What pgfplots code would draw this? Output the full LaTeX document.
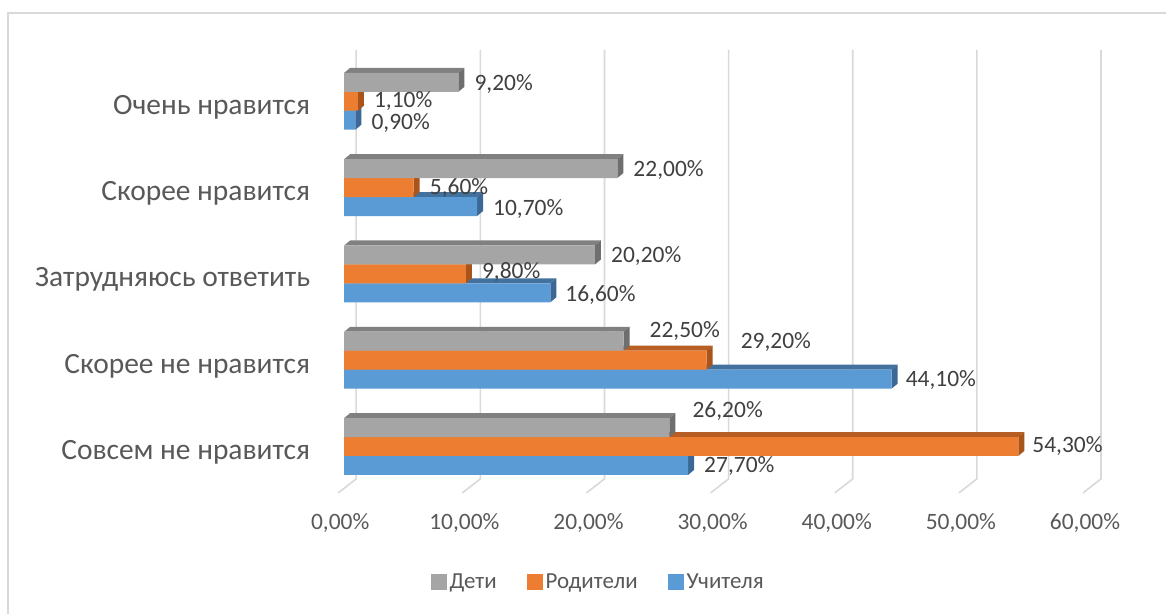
\documentclass[border=0pt]{standalone}
\usepackage{pgfplots}
\pgfplotsset{compat=1.18}
\usepackage{fontspec}
\setmainfont{Carlito}
\definecolor{cgray}{HTML}{A5A5A5}
\definecolor{cgrayt}{HTML}{808080}
\definecolor{cgrays}{HTML}{6E6E6E}
\definecolor{corange}{HTML}{ED7D31}
\definecolor{corainget}{HTML}{B65E23}
\definecolor{coranges}{HTML}{A9541B}
\definecolor{cblue}{HTML}{5B9BD5}
\definecolor{cbluet}{HTML}{41719C}
\definecolor{cblues}{HTML}{3B6894}
\definecolor{gridc}{HTML}{D9D9D9}
\definecolor{framec}{HTML}{D9D9D9}
\definecolor{ctext}{HTML}{595959}
\definecolor{clabel}{HTML}{404040}
% 3D faces: value, category, bar shift, top colour, side colour
\newcommand\bthreed[5]{%
  \fill[#4] ([yshift=#3+9.5pt]axis cs:0,#2) -- ([yshift=#3+9.5pt]axis cs:#1,#2)
    -- ([xshift=6pt,yshift=#3+14.5pt]axis cs:#1,#2) -- ([xshift=6pt,yshift=#3+14.5pt]axis cs:0,#2) -- cycle;
  \fill[#5] ([yshift=#3-9.5pt]axis cs:#1,#2) -- ([yshift=#3+9.5pt]axis cs:#1,#2)
    -- ([xshift=6pt,yshift=#3+14.5pt]axis cs:#1,#2) -- ([xshift=6pt,yshift=#3-4.5pt]axis cs:#1,#2) -- cycle;
}
% label: value, category, yshift, xshift, text
\newcommand\lbl[5]{%
  \node[anchor=west, inner sep=0pt, font=\fontsize{23.5}{27}\selectfont, text=clabel]
    at ([xshift=#4pt,yshift=#3pt]axis cs:#1,#2) {#5};
}
\begin{document}
\begin{tikzpicture}[x=1pt,y=1pt]
\fill[white] (0,0) rectangle (1167,613);
\draw[framec, line width=1.3pt] (8,-2) -- (8,600) -- (1169,600);
\begin{axis}[
  at={(345pt,122.25pt)}, anchor=south west,
  width=746.5pt, height=432.5pt, scale only axis,
  xmin=0, xmax=60, ymin=-0.5, ymax=4.5, clip=false,
  axis line style={draw=none}, major tick length=0pt,
  xtick={0,10,20,30,40,50,60},
  xticklabels={{0,00\%},{10,00\%},{20,00\%},{30,00\%},{40,00\%},{50,00\%},{60,00\%}},
  xticklabel style={anchor=center, inner sep=0pt, xshift=-4pt, yshift=-33pt,
    font=\fontsize{23.5}{27}\selectfont, text=ctext},
  ytick={0,1,2,3,4},
  yticklabels={Совсем не нравится, Скорее не нравится, Затрудняюсь ответить, Скорее нравится, Очень нравится},
  yticklabel style={anchor=east, inner sep=0pt, xshift=-34pt, yshift=-6pt,
    font=\fontsize{29.5}{34}\selectfont, text=ctext},
  legend image code/.code={\fill[#1] (0pt,-8pt) rectangle (16pt,8pt);},
  legend style={at={(0.3416,-0.2133)}, anchor=center, draw=none, fill=none,
    font=\fontsize{23}{27}\selectfont, text=ctext, inner sep=0pt,
    nodes={inner sep=3pt},
    /tikz/every odd column/.append style={column sep=0pt},
    /tikz/every even column/.append style={column sep=27pt}},
  legend columns=3, legend cell align=left,
]
\addlegendimage{fill=cgray, draw=none}\addlegendentry{Дети}
\addlegendimage{fill=corange, draw=none}\addlegendentry{Родители}
\addlegendimage{fill=cblue, draw=none}\addlegendentry{Учителя}
% gridlines (back wall + floor)
\pgfplotsinvokeforeach{0,10,20,30,40,50,60}{
  \draw[gridc, line width=1.6pt] ([xshift=12pt,yshift=8.25pt]axis cs:#1,4.5)
    -- ([xshift=12pt,yshift=10.75pt]axis cs:#1,-0.5)
    -- ([xshift=-6pt,yshift=-3.25pt]axis cs:#1,-0.5);
}
% Учителя
\bthreed{27.7}{0}{-19pt}{cbluet}{cblues}
\bthreed{44.1}{1}{-19pt}{cbluet}{cblues}
\bthreed{16.6}{2}{-19pt}{cbluet}{cblues}
\bthreed{10.7}{3}{-19pt}{cbluet}{cblues}
\bthreed{0.9}{4}{-19pt}{cbluet}{cblues}
\addplot[xbar, bar width=19pt, bar shift=-19pt, fill=cblue, draw=none, forget plot]
  coordinates {(27.7,0) (44.1,1) (16.6,2) (10.7,3) (0.9,4)};
% Родители
\bthreed{54.3}{0}{0pt}{corainget}{coranges}
\bthreed{29.2}{1}{0pt}{corainget}{coranges}
\bthreed{9.8}{2}{0pt}{corainget}{coranges}
\bthreed{5.6}{3}{0pt}{corainget}{coranges}
\bthreed{1.1}{4}{0pt}{corainget}{coranges}
\addplot[xbar, bar width=19pt, bar shift=0pt, fill=corange, draw=none, forget plot]
  coordinates {(54.3,0) (29.2,1) (9.8,2) (5.6,3) (1.1,4)};
% Дети
\bthreed{26.2}{0}{19pt}{cgrayt}{cgrays}
\bthreed{22.5}{1}{19pt}{cgrayt}{cgrays}
\bthreed{20.2}{2}{19pt}{cgrayt}{cgrays}
\bthreed{22.0}{3}{19pt}{cgrayt}{cgrays}
\bthreed{9.2}{4}{19pt}{cgrayt}{cgrays}
\addplot[xbar, bar width=19pt, bar shift=19pt, fill=cgray, draw=none, forget plot]
  coordinates {(26.2,0) (22.5,1) (20.2,2) (22.0,3) (9.2,4)};
% data labels
\lbl{9.2}{4}{17.5}{16}{9,20\%}
\lbl{1.1}{4}{0.5}{16}{1,10\%}
\lbl{0.9}{4}{-22}{16}{0,90\%}
\lbl{22.0}{3}{18}{16}{22,00\%}
\lbl{5.6}{3}{0}{16}{5,60\%}
\lbl{10.7}{3}{-21}{16}{10,70\%}
\lbl{20.2}{2}{17.5}{16}{20,20\%}
\lbl{9.8}{2}{1.5}{16}{9,80\%}
\lbl{16.6}{2}{-21.5}{15}{16,60\%}
\lbl{22.5}{1}{29}{26}{22,50\%}
\lbl{29.2}{1}{18}{34}{29,20\%}
\lbl{44.1}{1}{-20}{14}{44,10\%}
\lbl{26.2}{0}{36}{23}{26,20\%}
\lbl{54.3}{0}{0}{14}{54,30\%}
\lbl{27.7}{0}{-19.5}{16}{27,70\%}
\end{axis}
\end{tikzpicture}
\end{document}
